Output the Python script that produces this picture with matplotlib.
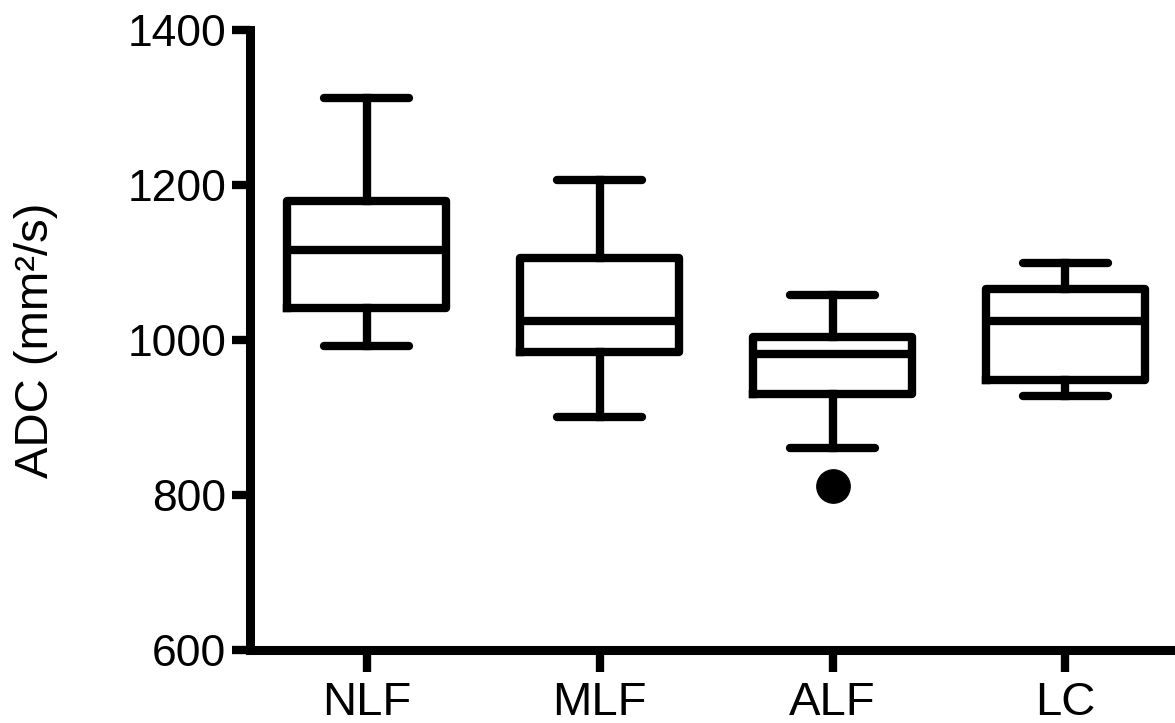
import matplotlib
matplotlib.use("Agg")
import matplotlib.pyplot as plt

# box summary values (ADC, mm^2/s)
groups = ["NLF", "MLF", "ALF", "LC"]
whisker_low = [992, 901, 860, 928]
q1 = [1041, 984, 930, 949]
medians = [1116, 1025, 982, 1025]
q3 = [1179, 1106, 1004, 1066]
whisker_high = [1312, 1206, 1058, 1099]
outliers = [[], [], [812], []]

yticks = [600, 800, 1000, 1200, 1400]

plt.rcParams["font.family"] = ["Liberation Sans", "DejaVu Sans"]

fig = plt.figure(figsize=(11.75, 7.23), dpi=100)
ax = fig.add_axes([0.2128, 0.101, 0.7872, 0.8575])

stats = []
for i, name in enumerate(groups):
  stats.append(dict(label=name, whislo=whisker_low[i], q1=q1[i], med=medians[i],
                    q3=q3[i], whishi=whisker_high[i], fliers=outliers[i]))

lw = 6
ax.bxp(stats, positions=range(1, len(groups) + 1), widths=0.68, capwidths=0.365,
       boxprops=dict(color="black", linewidth=lw, solid_joinstyle="round"),
       medianprops=dict(color="black", linewidth=lw, solid_capstyle="butt"),
       whiskerprops=dict(color="black", linewidth=lw),
       capprops=dict(color="black", linewidth=lw, solid_capstyle="round"),
       flierprops=dict(marker="o", markerfacecolor="black", markeredgecolor="black",
                       markersize=24))

ax.set_xlim(0.5, 4.47)
ax.set_ylim(600, 1400)
ax.set_yticks(yticks)
ax.set_xticks(range(1, len(groups) + 1))
ax.set_xticklabels(groups)

for side in ["top", "right"]:
  ax.spines[side].set_visible(False)
for side in ["left", "bottom"]:
  ax.spines[side].set_linewidth(6.5)
  ax.spines[side].set_capstyle("projecting")

ax.tick_params(axis="y", length=13, width=lw, labelsize=32, pad=4)
ax.tick_params(axis="x", length=16, width=lw, labelsize=34, pad=6)
ax.set_ylabel("ADC (mm²/s)", fontsize=34, labelpad=50)

fig.savefig("out.png", dpi=100)
